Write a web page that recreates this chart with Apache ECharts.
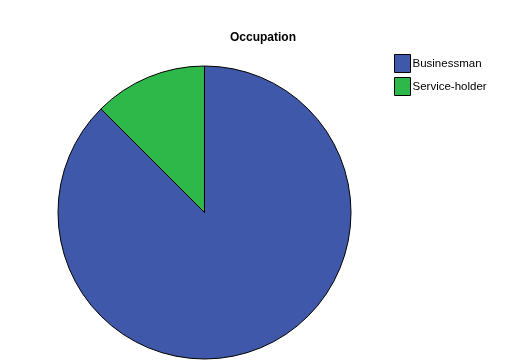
<!DOCTYPE html>
<html><head><meta charset="utf-8">
<script src="https://cdn.jsdelivr.net/npm/echarts@6/dist/echarts.min.js"></script>
<style>html,body{margin:0;padding:0;background:#fff}#c{width:517px;height:363px}</style>
</head><body><div id="c"></div>
<script>
const categories = ["Businessman", "Service-holder"];
const values = [49, 7];
const colors = ["#3f58a9", "#2eb84a"];
const chart = echarts.init(document.getElementById('c'), null, {renderer: 'canvas'});
chart.setOption({
  animation: false,
  backgroundColor: '#ffffff',
  title: {
    text: 'Occupation', left: 258, top: 27, textAlign: 'center',
    textStyle: {fontFamily: 'Liberation Sans, Arial', fontSize: 12, fontWeight: 'bold', color: '#000'}
  },
  legend: {
    orient: 'vertical', left: 389, top: 49, itemWidth: 16, itemHeight: 18, itemGap: 4,
    icon: 'rect',
    textStyle: {fontFamily: 'Liberation Sans, Arial', fontSize: 11.5, color: '#000', padding: [0,0,0,-3]},
    itemStyle: {borderColor: '#000', borderWidth: 1},
    data: categories
  },
  series: [{
    type: 'pie', center: [204.5, 212.5], radius: 146.5, startAngle: 90, clockwise: true,
    label: {show: false}, labelLine: {show: false},
    itemStyle: {borderColor: '#000', borderWidth: 1},
    emphasis: {disabled: true},
    data: categories.map((c, i) => ({name: c, value: values[i], itemStyle: {color: colors[i]}}))
  }]
});
</script></body></html>
